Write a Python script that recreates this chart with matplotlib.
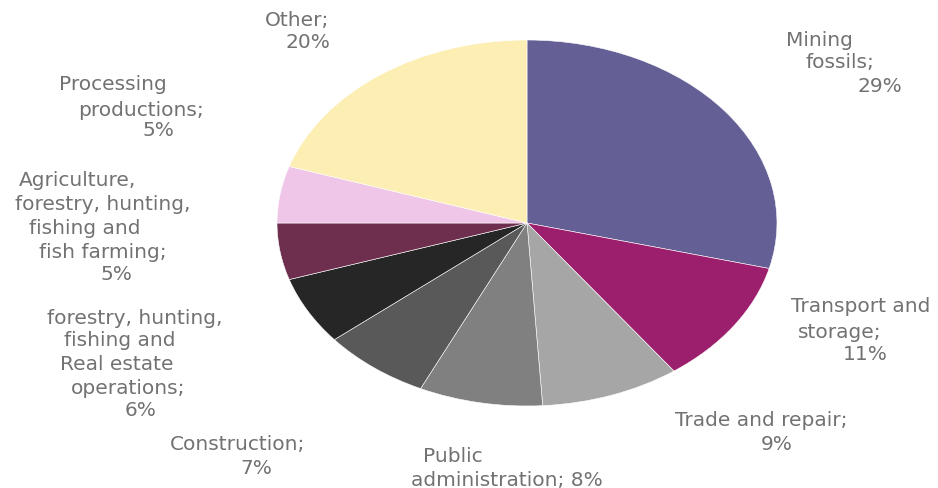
import matplotlib
matplotlib.use("Agg")
import matplotlib.pyplot as plt

# sector shares, clockwise from 12 o'clock
sectors = ["Mining fossils", "Transport and storage", "Trade and repair",
           "Public administration", "Construction", "Real estate operations",
           "Agriculture, forestry, hunting, fishing and fish farming",
           "Processing productions", "Other"]
shares = [29, 11, 9, 8, 7, 6, 5, 5, 20]
colors = ["#646096", "#9c1f6e", "#a6a6a6", "#808080", "#595959",
          "#262626", "#6e2f4e", "#efc6e8", "#fdeeb3"]

# label text lines per sector (share is appended to the last line)
label_lines = [
    ["Mining", "fossils;", ""],
    ["Transport and", "storage;", ""],
    ["Trade and repair;", ""],
    ["Public", "administration; "],
    ["Construction;", ""],
    ["forestry, hunting,", "fishing and", "Real estate", "operations;", ""],
    ["Agriculture,", "forestry, hunting,", "fishing and", "fish farming;", ""],
    ["Processing", "productions;", ""],
    ["Other;", ""],
]

# line centres in pixels (x, y from top)
label_pos = [
    [(819, 40), (840, 63), (880, 87)],
    [(861, 307), (840, 332), (865, 354)],
    [(761, 421), (777, 445)],
    [(453, 457), (507, 480)],
    [(238, 445), (256, 469)],
    [(135, 318), (120, 341), (117, 365), (128, 388), (141, 410)],
    [(78, 181), (103, 205), (85, 228), (103, 252), (116, 275)],
    [(113, 84), (141, 110), (158, 131)],
    [(297, 20), (308, 42)],
]

W, H = 938, 488
fig = plt.figure(figsize=(W / 100, H / 100), dpi=100)
fig.patch.set_facecolor("white")

# pie is stretched wider than tall
cx, cy, rx, ry = 527, 223, 250, 183
ax = fig.add_axes([(cx - rx) / W, (H - cy - ry) / H, 2 * rx / W, 2 * ry / H])
ax.pie(shares, colors=colors, startangle=90, counterclock=False,
       wedgeprops=dict(edgecolor="white", linewidth=0.4))
ax.set_aspect("auto")
ax.set_xlim(-1, 1)
ax.set_ylim(-1, 1)
ax.axis("off")

for lines, pos, val in zip(label_lines, label_pos, shares):
    lines = lines[:-1] + [lines[-1] + f"{val}%"]
    for txt, (x, y) in zip(lines, pos):
        fig.text(x / W, 1 - y / H, txt, ha="center", va="center",
                 fontsize=14.5, color="#727272", family="DejaVu Sans")

fig.savefig("out.png", dpi=100)
